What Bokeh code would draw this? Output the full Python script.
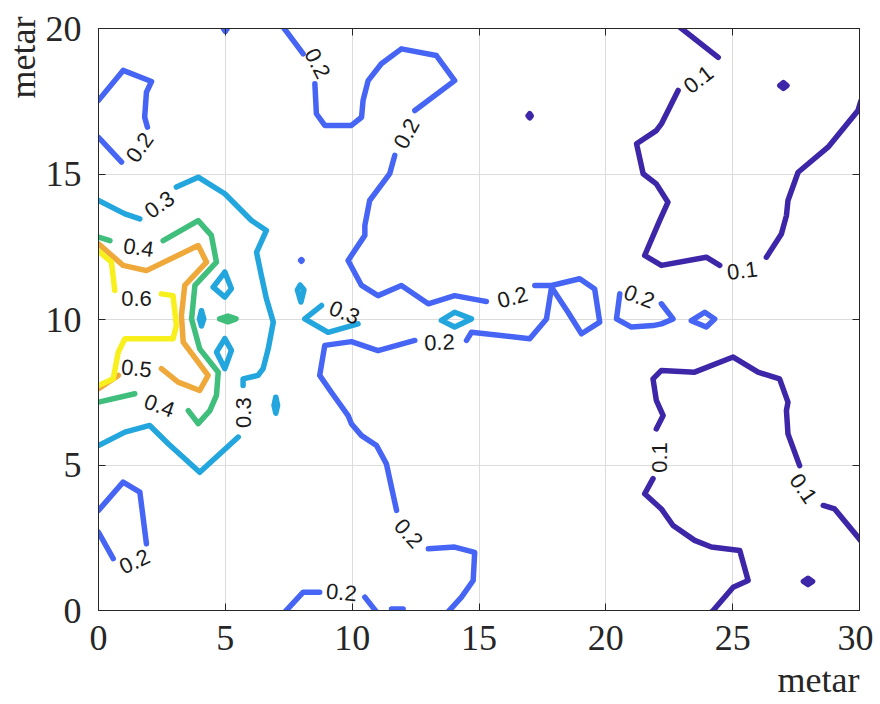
from bokeh.plotting import figure
from bokeh.models import (ColumnDataSource, LabelSet, LinearAxis, Title,
                          SingleIntervalTicker, Range1d)
from bokeh.core.properties import value
from bokeh.embed import file_html
from bokeh.resources import INLINE

# ---------------- data ----------------
levels = [0.1, 0.2, 0.3, 0.4, 0.5, 0.6]
level_colors = ["#3E26A8", "#4765F5", "#22A6DD", "#3FBE7C", "#EFA83A", "#F8F01C"]

# contour pieces (x lists / y lists) for every level
c01_x = [
    [22.91, 24.43],
    [22.85, 22.19, 21.99, 21.21, 21.47, 21.99, 22.45, 22.12, 21.53, 22.19, 23.96, 24.49],
    [26.33, 26.92, 27.12, 27.18, 27.58, 28.76, 29.94, 30.05],
    [30.05, 29.94, 29.02, 28.57],
    [27.64, 27.18, 27.12, 27.18, 26.85, 26.00, 25.02, 23.50, 22.19, 21.86, 21.99, 22.26, 21.99],
    [21.86, 21.53, 22.19, 22.65, 23.50, 24.16, 25.28, 25.61, 25.02, 24.23, 24.10],
    [16.94, 17.00, 17.06, 17.00, 16.94],
    [26.86, 27.00, 27.14, 27.00, 26.86],
    [27.79, 27.97, 28.15, 27.97, 27.79],
]
c01_y = [
    [20.05, 19.01],
    [17.87, 16.72, 16.49, 16.04, 15.01, 14.66, 14.03, 13.40, 12.20, 11.86, 12.14, 11.86],
    [12.14, 12.94, 13.57, 14.09, 15.06, 15.92, 17.18, 17.50],
    [2.40, 2.52, 3.49, 3.61],
    [4.98, 6.07, 6.87, 7.16, 7.96, 8.19, 8.71, 8.19, 8.25, 7.96, 7.22, 6.70, 6.24],
    [4.53, 4.01, 3.49, 2.92, 2.41, 2.18, 2.06, 1.03, 0.80, 0.00, -0.10],
    [17.00, 17.07, 17.00, 16.93, 17.00],
    [18.04, 18.14, 18.04, 17.94, 18.04],
    [1.00, 1.11, 1.00, 0.89, 1.00],
]

c02_x = [
    [0.00, 0.91],
    [1.93, 1.82, 1.89, 2.09, 0.97, 0.00],
    [7.28, 8.07],
    [8.53, 8.59, 8.92, 9.97, 10.37, 10.43, 10.63, 11.15, 11.94, 13.32, 14.04, 12.47],
    [11.68, 11.48, 10.69, 10.50, 10.50, 9.84, 10.37, 11.02, 11.94, 13.00, 14.04, 15.10, 15.29],
    [17.20, 17.86, 18.97, 19.56, 19.76, 19.04, 18.51, 17.86, 17.66, 17.00, 14.70, 14.51],
    [12.47, 11.02, 9.97, 8.92, 8.72, 9.18, 9.84, 9.97, 10.37, 10.96, 11.35, 11.55, 11.75],
    [13.00, 14.04, 14.83, 14.77, 14.31, 13.78],
    [7.35, 8.07, 8.72],
    [10.50, 10.96],
    [11.55, 12.01],
    [0.00, 0.97, 1.63, 1.89],
    [0.00, 0.58],
    [20.55, 20.42, 21.01, 21.86, 22.19, 22.65, 22.19],
    [23.37, 23.90, 24.29, 23.96, 23.37],
    [4.92, 5.00, 5.08],
    [7.97, 8.00, 8.03, 8.00, 7.97],
]
c02_y = [
    [16.26, 15.41],
    [16.61, 16.95, 17.81, 18.18, 18.56, 17.53],
    [20.05, 19.13],
    [18.10, 17.07, 16.67, 16.67, 16.95, 17.53, 18.21, 18.79, 19.30, 19.07, 18.21, 17.18],
    [15.64, 15.01, 14.09, 13.23, 12.89, 12.03, 11.17, 10.82, 11.17, 10.54, 10.82, 10.65, 10.62],
    [11.17, 11.17, 11.40, 11.05, 9.91, 9.51, 10.25, 11.11, 10.02, 9.34, 9.56, 9.28],
    [9.28, 8.93, 9.24, 9.11, 8.08, 7.50, 6.70, 6.42, 6.01, 5.67, 5.04, 4.24, 3.44],
    [2.12, 2.18, 2.00, 1.03, 0.46, -0.05],
    [-0.05, 0.63, 0.63],
    [0.46, -0.05],
    [0.05, 0.05],
    [3.44, 4.41, 4.07, 2.29],
    [2.69, 1.78],
    [10.88, 10.02, 9.74, 9.79, 9.85, 10.02, 10.54],
    [9.96, 10.25, 10.02, 9.74, 9.96],
    [20.00, 19.90, 20.00],
    [12.03, 12.06, 12.03, 12.00, 12.03],
]

c03_x = [
    [0.00, 1.04, 1.63],
    [3.07, 3.93, 4.98, 6.03, 6.62, 6.23, 6.42, 6.62, 6.89, 6.69, 6.49, 6.29, 5.70, 5.70],
    [5.51, 3.99, 2.75, 2.02, 1.04, 0.00],
    [4.98, 5.24, 4.98, 4.52, 4.98],
    [4.98, 5.24, 4.98, 4.65, 4.98],
    [4.06, 4.15, 4.06, 3.98, 4.06],
    [6.99, 7.06, 6.99, 6.92, 6.99],
    [7.95, 8.10, 7.98, 7.84, 7.95],
    [8.79, 8.13, 9.05, 10.23],
    [13.52, 14.04, 14.70, 14.04, 13.52],
]
c03_y = [
    [14.09, 13.63, 13.46],
    [14.55, 14.89, 14.32, 13.40, 13.06, 12.31, 11.51, 10.71, 9.91, 8.99, 8.31, 8.08, 7.96, 7.73],
    [5.96, 4.75, 5.73, 6.36, 6.13, 5.67],
    [11.63, 11.06, 10.77, 11.11, 11.63],
    [9.34, 8.94, 8.31, 8.88, 9.34],
    [10.30, 10.02, 9.78, 10.02, 10.30],
    [7.33, 7.05, 6.78, 7.05, 7.33],
    [11.18, 11.02, 10.60, 11.02, 11.18],
    [10.48, 10.02, 9.56, 9.85],
    [9.97, 10.25, 10.02, 9.74, 9.97],
]

c04_x = [
    [0.00, 0.45],
    [2.55, 3.93, 4.45, 4.65, 3.80, 3.67, 3.99, 4.72, 4.65, 4.39, 3.93, 3.54],
    [1.43, 0.00],
    [4.78, 5.10, 5.42, 5.10, 4.78],
]
c04_y = [
    [12.83, 12.71],
    [12.71, 13.40, 12.89, 11.97, 11.17, 10.02, 8.99, 8.19, 7.39, 6.87, 6.42, 6.87],
    [7.45, 7.16],
    [10.02, 10.12, 10.02, 9.92, 10.02],
]

c05_x = [
    [0.00, 0.97, 1.89, 3.93, 4.26, 3.40, 3.27, 3.34, 4.32, 3.99, 3.14, 2.48],
    [0.78, 0.00],
]
c05_y = [
    [12.60, 11.86, 11.68, 12.54, 11.97, 11.17, 10.14, 9.22, 8.08, 7.56, 7.85, 8.31],
    [8.08, 7.62],
]

c06_x = [
    [0.00, 0.51, 0.64],
    [2.48, 2.94, 3.07, 2.94, 1.04, 0.78, 0.58, 0.00],
]
c06_y = [
    [12.35, 11.97, 11.00],
    [10.88, 10.82, 9.79, 9.34, 9.34, 8.88, 7.96, 7.73],
]

# contour labels
lab_x = [1.62, 8.63, 12.14, 16.32, 13.44, 21.32, 12.22, 9.58, 1.42,
         2.40, 5.72, 9.70, 1.58, 2.40, 1.50, 1.50, 23.65, 25.38, 22.11, 27.79]
lab_y = [15.91, 18.80, 16.39, 10.76, 9.21, 10.79, 2.65, 0.62, 1.68,
         13.95, 6.80, 10.24, 12.47, 7.04, 8.32, 10.72, 18.25, 11.68, 5.26, 4.19]
lab_text = ["0.2"] * 9 + ["0.3"] * 3 + ["0.4", "0.4", "0.5", "0.6"] + ["0.1"] * 4
lab_angle = [55, -63, 62, 15, 2, -21, -48, -5, 25,
             35, 90, -22, -8, -20, -6, 0, 38, 7, 90, -55]

x_ticks_interval = 5
y_ticks_interval = 5
x_label = "metar"
y_label = "metar"

# ---------------- figure ----------------
p = figure(frame_width=761, frame_height=582,
           x_range=Range1d(0, 30), y_range=Range1d(0, 20),
           output_backend="svg", toolbar_location=None,
           min_border_left=97, min_border_right=14,
           min_border_top=28, min_border_bottom=94)
p.background_fill_color = "white"
p.border_fill_color = "white"
p.outline_line_color = "#262626"
p.outline_line_width = 1

AX = "#262626"
for ax, iv in [(p.xaxis[0], x_ticks_interval), (p.yaxis[0], y_ticks_interval)]:
    ax.ticker = SingleIntervalTicker(interval=iv)
    ax.major_tick_in = 7
    ax.major_tick_out = 0
    ax.minor_tick_line_color = None
    ax.axis_line_color = AX
    ax.major_tick_line_color = AX
    ax.major_label_text_font = "Liberation Serif"
    ax.major_label_text_font_size = "36px"
    ax.major_label_text_color = AX
p.xaxis[0].major_label_standoff = 11
p.yaxis[0].major_label_standoff = 13

for loc, iv in [("above", x_ticks_interval), ("right", y_ticks_interval)]:
    ax = LinearAxis(ticker=SingleIntervalTicker(interval=iv),
                    major_tick_in=7, major_tick_out=0,
                    minor_tick_line_color=None,
                    axis_line_color=AX, major_tick_line_color=AX,
                    major_label_text_color=None,
                    major_label_text_font_size="10px",
                    major_label_standoff=0)
    p.add_layout(ax, loc)

p.xgrid.ticker = SingleIntervalTicker(interval=x_ticks_interval)
p.ygrid.ticker = SingleIntervalTicker(interval=y_ticks_interval)
p.grid.grid_line_color = "#dcdcdc"
p.grid.grid_line_width = 1

xs, ys, cols = [], [], []
for cx, cy, col in zip([c01_x, c02_x, c03_x, c04_x, c05_x, c06_x],
                       [c01_y, c02_y, c03_y, c04_y, c05_y, c06_y],
                       level_colors):
    for a, b in zip(cx, cy):
        xs.append(a)
        ys.append(b)
        cols.append(col)
src = ColumnDataSource(dict(xs=xs, ys=ys, color=cols))
p.multi_line("xs", "ys", source=src, line_color="color", line_width=5.5,
             line_join="round", line_cap="round")

lsrc = ColumnDataSource(dict(x=lab_x, y=lab_y, text=lab_text, angle=lab_angle))
p.add_layout(LabelSet(x="x", y="y", text="text", angle="angle", angle_units="deg",
                      source=lsrc, text_align="center", text_baseline="middle",
                      text_font=value("Liberation Sans"), text_font_size="22px",
                      text_color="#1a1a1a"))

p.add_layout(Title(text=x_label, align="right", text_font="Liberation Serif",
                   text_font_size="36px", text_font_style="normal",
                   text_color=AX, standoff=11), "below")
p.add_layout(Title(text=y_label, align="right", text_font="Liberation Serif",
                   text_font_size="36px", text_font_style="normal",
                   text_color=AX, standoff=0, offset=-12), "left")

open("out.html", "w").write(file_html(p, INLINE))
